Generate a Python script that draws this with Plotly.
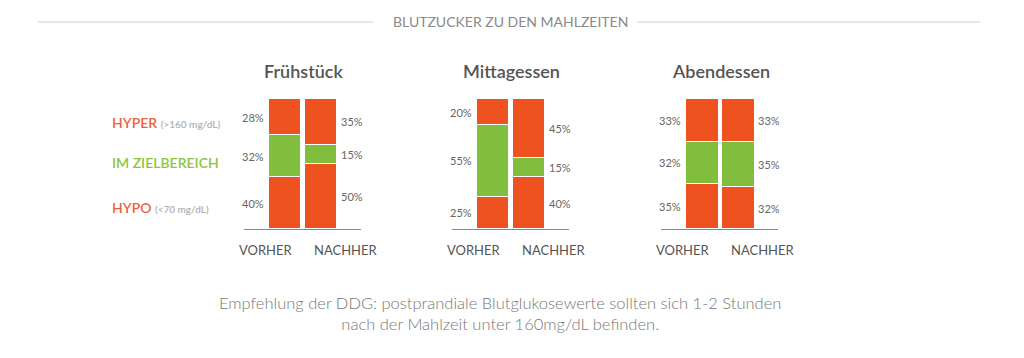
import plotly.graph_objects as go

meals = ["Frühstück", "Mittagessen", "Abendessen"]
phases = ["VORHER", "NACHHER"]
hypo = [[40, 50], [25, 40], [35, 32]]
ziel = [[32, 15], [55, 15], [32, 35]]
hyper = [[28, 35], [20, 45], [33, 33]]

ORANGE = "#EE5221"
GREEN = "#82BE3E"
W, H = 1024, 358
FONT = "Lato"

def py(p):
    return 1 - p / H

def px(p):
    return p / W

fig = go.Figure()
domains = [[243.6, 360.6], [451.6, 568.6], [661, 778]]
annotations = []
for i, meal in enumerate(meals):
    xa = "x" if i == 0 else f"x{i+1}"
    for vals, col in [(hypo[i], ORANGE), (ziel[i], GREEN), (hyper[i], ORANGE)]:
        fig.add_trace(go.Bar(x=phases, y=vals, xaxis=xa, yaxis="y",
                             marker=dict(color=col, line=dict(color="white", width=1.5)),
                             width=0.92, showlegend=False, hoverinfo="skip"))
    for j, ph in enumerate(phases):
        segs = [hypo[i][j], ziel[i][j], hyper[i][j]]
        base = 0
        for v in segs:
            annotations.append(dict(
                x=ph, y=base + v / 2, xref=xa, yref="y", text=f"{v}%",
                showarrow=False, xanchor="right" if j == 0 else "left", yanchor="middle",
                xshift=-19 if j == 0 else 18,
                font=dict(family=FONT, size=11, color="#666")))
            base += v
        annotations.append(dict(
            x=ph, y=py(250), xref=xa, yref="paper", text=ph, showarrow=False,
            xanchor="center", yanchor="middle", xshift=-19 if j == 0 else 25,
            font=dict(family=FONT, size=13, color="#555")))
    d = domains[i]
    annotations.append(dict(
        x=px((d[0] + d[1]) / 2 + 1), y=py(71), xref="paper", yref="paper",
        text=meal, showarrow=False, xanchor="center", yanchor="middle",
        font=dict(family=FONT, size=18, color="#555", weight=600)))

axis_common = dict(type="category", range=[-1.15, 2.1], showgrid=False, zeroline=False,
                   showticklabels=False, showline=True, linecolor="#888", linewidth=1,
                   ticks="", fixedrange=True)
layout_axes = {}
for i, d in enumerate(domains):
    key = "xaxis" if i == 0 else f"xaxis{i+1}"
    layout_axes[key] = dict(axis_common, domain=[px(d[0]), px(d[1])], anchor="y")

annotations += [
    dict(x=px(110), y=py(123), xref="paper", yref="paper", xanchor="left", yanchor="middle",
         showarrow=False,
         text="<span style='color:#F0603A'>HYPER</span> <span style='font-size:10px;color:#b0b0b0'>(&gt;160 mg/dL)</span>",
         font=dict(family=FONT, size=14, color="#F0603A", weight=600)),
    dict(x=px(110), y=py(162), xref="paper", yref="paper", xanchor="left", yanchor="middle",
         showarrow=False,
         text="IM ZIELBEREICH", font=dict(family=FONT, size=14, color="#8CC63F", weight=600)),
    dict(x=px(110), y=py(207), xref="paper", yref="paper", xanchor="left", yanchor="middle",
         showarrow=False,
         text="<span style='color:#F0603A'>HYPO</span> <span style='font-size:10px;color:#b0b0b0'>(&lt;70 mg/dL)</span>",
         font=dict(family=FONT, size=14, color="#F0603A", weight=600)),
    dict(x=px(510), y=py(22), xref="paper", yref="paper", xanchor="center", yanchor="middle",
         showarrow=False,
         text="BLUTZUCKER ZU DEN MAHLZEITEN", font=dict(family=FONT, size=14, color="#8a8a8a")),
    dict(x=px(500), y=py(313), xref="paper", yref="paper", xanchor="center", yanchor="middle",
         showarrow=False,
         text="Empfehlung der DDG: postprandiale Blutglukosewerte sollten sich 1-2 Stunden<br>nach der Mahlzeit unter 160mg/dL befinden.",
         font=dict(family=FONT, size=16.5, color="#777", weight=300), align="center"),
]

shapes = [
    dict(type="line", xref="paper", yref="paper", x0=px(38), x1=px(373), y0=py(22), y1=py(22),
         line=dict(color="#cfcfcf", width=1)),
    dict(type="line", xref="paper", yref="paper", x0=px(637), x1=px(980), y0=py(22), y1=py(22),
         line=dict(color="#cfcfcf", width=1)),
]

fig.update_layout(
    width=W, height=H, margin=dict(l=0, r=0, t=0, b=0),
    paper_bgcolor="white", plot_bgcolor="white", barmode="stack", bargap=0,
    yaxis=dict(domain=[py(229), py(99)], range=[0, 100], visible=False, fixedrange=True),
    annotations=annotations, shapes=shapes,
    **layout_axes,
)
fig.write_html("out.html", config={"displayModeBar": False},
               post_script="document.body.style.margin='0';")
